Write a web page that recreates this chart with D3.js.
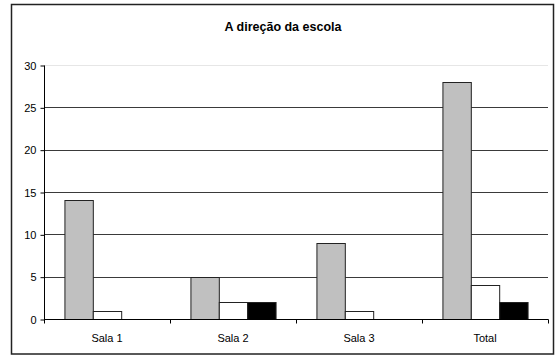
<!DOCTYPE html>
<html>
<head>
<meta charset="utf-8">
<script src="https://cdn.jsdelivr.net/npm/d3@7"></script>
<style>
  html, body { margin: 0; padding: 0; background: #fff; }
  svg { display: block; font-family: Arial, "Liberation Sans", sans-serif; }
</style>
</head>
<body>
<svg id="chart" width="555" height="356"></svg>
<script>
// Categories and series values
const categories = ["Sala 1", "Sala 2", "Sala 3", "Total"];
const seriesGray  = [14, 5, 9, 28];
const seriesWhite = [1, 2, 1, 4];
const seriesBlack = [0, 2, 0, 2];
const yTicks = [0, 5, 10, 15, 20, 25, 30];
const title = "A direção da escola";

const series = [
  { key: "a", values: seriesGray,  fill: "#c0c0c0" },
  { key: "b", values: seriesWhite, fill: "#ffffff" },
  { key: "c", values: seriesBlack, fill: "#000000" }
];

const svg = d3.select("#chart");
const plot = { left: 44, right: 548, top: 65, bottom: 319 };

// Outer frame
svg.append("rect")
  .attr("x", 11.5).attr("y", 4.5)
  .attr("width", 542).attr("height", 349.5)
  .attr("fill", "none").attr("stroke", "#222").attr("stroke-width", 1.5);

// Title
svg.append("text")
  .attr("x", 283).attr("y", 31)
  .attr("text-anchor", "middle")
  .attr("font-size", 12.5).attr("font-weight", "bold")
  .attr("fill", "#000")
  .text(title);

const x0 = d3.scaleBand().domain(categories).range([plot.left, plot.right]).padding(0);
const x1 = d3.scaleBand().domain(series.map(s => s.key))
  .range([0, x0.bandwidth()]).paddingInner(0).paddingOuter(0.72);
const y = d3.scaleLinear().domain([0, 30]).range([plot.bottom, plot.top]);

// Horizontal gridlines
svg.append("g").selectAll("line")
  .data(yTicks.filter(t => t > 0))
  .join("line")
  .attr("x1", plot.left).attr("x2", plot.right)
  .attr("y1", d => Math.round(y(d)) + 0.5).attr("y2", d => Math.round(y(d)) + 0.5)
  .attr("stroke", d => d === 30 ? "#e6e6e6" : "#3a3a3a")
  .attr("stroke-width", 1);

// Bars
const groups = svg.append("g").selectAll("g")
  .data(categories)
  .join("g")
  .attr("transform", d => `translate(${x0(d)},0)`);

groups.selectAll("rect")
  .data((c, i) => series.map(s => ({ key: s.key, value: s.values[i], fill: s.fill })))
  .join("rect")
  .filter(d => d.value > 0)
  .attr("x", d => x1(d.key) + 0.5)
  .attr("y", d => Math.round(y(d.value)) + 0.5)
  .attr("width", x1.bandwidth())
  .attr("height", d => Math.round(y(0)) - Math.round(y(d.value)))
  .attr("fill", d => d.fill)
  .attr("stroke", "#222")
  .attr("stroke-width", 1);

// Y axis
const yAxis = d3.axisLeft(y).tickValues(yTicks).tickSize(4).tickPadding(4).tickFormat(d3.format("d"));
const gy = svg.append("g").attr("transform", `translate(${plot.left + 0.5},0.5)`).call(yAxis);
gy.select(".domain").attr("stroke", "#000").attr("d", `M0,${plot.top}V${plot.bottom}`);
gy.selectAll(".tick line").attr("stroke", "#000");
gy.selectAll(".tick text").attr("font-size", 11).attr("fill", "#000")
  .attr("font-family", "Arial, 'Liberation Sans', sans-serif");

// X axis with ticks at category boundaries
const gx = svg.append("g").attr("transform", `translate(0,${plot.bottom + 0.5})`);
gx.append("line")
  .attr("x1", plot.left).attr("x2", plot.right + 0.5)
  .attr("y1", 0).attr("y2", 0).attr("stroke", "#000");
const boundaries = categories.map(c => x0(c)).concat([x0(categories[categories.length - 1]) + x0.bandwidth()]);
gx.selectAll("line.tk").data(boundaries).join("line").attr("class", "tk")
  .attr("x1", d => Math.round(d) + 0.5).attr("x2", d => Math.round(d) + 0.5)
  .attr("y1", 0).attr("y2", 4).attr("stroke", "#000");
gx.selectAll("text").data(categories).join("text")
  .attr("x", d => x0(d) + x0.bandwidth() / 2)
  .attr("y", 22)
  .attr("text-anchor", "middle")
  .attr("font-size", 11).attr("fill", "#000")
  .text(d => d);
</script>
</body>
</html>
